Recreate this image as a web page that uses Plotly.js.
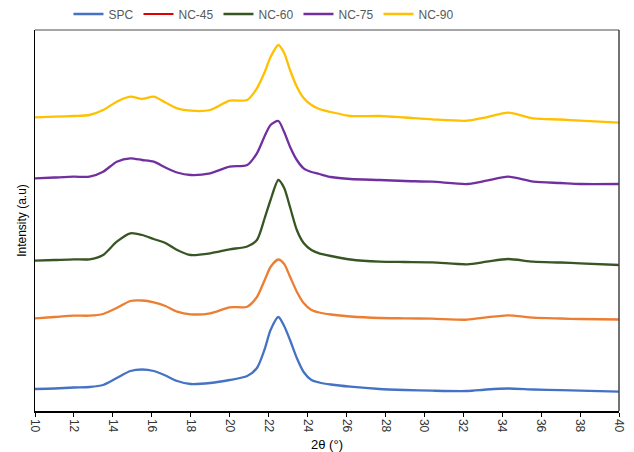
<!DOCTYPE html>
<html>
<head>
<meta charset="utf-8">
<script src="https://cdn.plot.ly/plotly-3.0.1.min.js"></script>
<style>html,body{margin:0;padding:0;background:#fff;}#chart{width:634px;height:452px;}</style>
</head>
<body>
<div id="chart"></div>
<script>
// 2θ angles (degrees)
const twoTheta = [10, 11, 12, 12.8, 13.5, 14.2, 14.9, 15.5, 16.1, 16.7, 17.3, 18, 19, 20, 20.9, 21.4, 21.8, 22.1, 22.5, 22.8, 23.1, 23.45, 23.8, 24.2, 24.6, 25.2, 26.2, 27.7, 29, 30.4, 32.2, 33.2, 34.3, 35.6, 37, 38, 40];

// Intensities (a.u., stacked as in the figure)
const spc  = [22, 22.5, 23.5, 24, 26, 33, 40, 41.5, 40, 35.5, 30, 27, 28, 31, 35, 43, 62, 81, 94, 85, 71, 53, 39, 31, 28.5, 26.5, 24.3, 22, 21, 20.3, 20, 21.5, 22.5, 21.5, 20.8, 20.3, 19.3];
const nc45 = [92.7, 94, 95.3, 95.3, 97, 103, 110, 110.5, 108.7, 105, 99.3, 96.7, 97.7, 103.7, 104.3, 114, 131, 144, 151.5, 147, 134.3, 119.3, 108, 101, 98.5, 96.5, 94.5, 93, 92.7, 92.3, 91.3, 93.7, 95.7, 93.3, 92.5, 92, 91.5];
const nc60 = [150.3, 151, 151.7, 151.7, 156, 169.3, 177.7, 176, 172, 168, 161, 156, 157.7, 161.7, 164.5, 171, 193, 211, 231, 223, 204, 181, 168, 161, 157.7, 155, 151.5, 149.3, 149, 148.7, 146.7, 149.3, 152, 149.3, 148.5, 147.7, 146];
const nc75 = [232.7, 233.5, 234.3, 234.3, 239.3, 249.3, 252.7, 251, 249.3, 243.5, 238.5, 236, 237.7, 244.3, 246, 257.7, 275, 286, 290, 279, 264.3, 251, 242.7, 239, 237, 234, 232, 231, 230, 229.3, 227, 230.3, 234.3, 229.3, 228, 227, 227];
const nc90 = [293.7, 294.3, 295, 296, 301, 309.3, 314.3, 312, 314.3, 308.5, 302.7, 300.3, 301, 310.3, 311, 322.7, 339, 354, 366, 358, 341, 324.3, 313, 306, 302, 299, 295, 295, 293.5, 291.7, 290.3, 293.7, 298.3, 292.7, 291.5, 290.3, 288.3];

const xTicks = [10, 12, 14, 16, 18, 20, 22, 24, 26, 28, 30, 32, 34, 36, 38, 40];
const seriesNames = ['SPC', 'NC-45', 'NC-60', 'NC-75', 'NC-90'];

const lineStyle = (c) => ({color: c, width: 2.3, shape: 'spline', smoothing: 0.7});

const traces = [
  {x: twoTheta, y: spc, name: seriesNames[0], mode: 'lines', line: lineStyle('#4472C4')},
  {x: [null], y: [null], name: seriesNames[1], mode: 'lines', line: {color: '#E00000', width: 2}},
  {x: twoTheta, y: nc45, name: seriesNames[1], mode: 'lines', line: lineStyle('#ED7D31'), showlegend: false},
  {x: twoTheta, y: nc60, name: seriesNames[2], mode: 'lines', line: lineStyle('#375623')},
  {x: twoTheta, y: nc75, name: seriesNames[3], mode: 'lines', line: lineStyle('#7030A0')},
  {x: twoTheta, y: nc90, name: seriesNames[4], mode: 'lines', line: lineStyle('#FFC000')}
];

const layout = {
  width: 634, height: 452,
  margin: {l: 35, r: 15, t: 30, b: 41, pad: 0},
  paper_bgcolor: '#fff', plot_bgcolor: '#fff',
  font: {family: 'Liberation Sans, Arial, sans-serif', size: 12, color: '#333'},
  showlegend: true,
  legend: {orientation: 'h', xref: 'container', yref: 'container', x: 0.108, xanchor: 'left', y: 0.969, yanchor: 'middle',
           bgcolor: 'rgba(0,0,0,0)', font: {size: 12, color: '#595959'}, itemwidth: 30, tracegroupgap: 0},
  xaxis: {
    range: [10, 40], tickvals: xTicks, ticktext: xTicks.map(String),
    tickangle: 90, ticks: 'outside', ticklen: 4, tickcolor: '#000', tickwidth: 1,
    showline: true, linecolor: '#000', linewidth: 1.5, showgrid: false, zeroline: false,
    tickfont: {size: 12, color: '#333'}, automargin: false,
    title: {text: '2θ (°)', font: {size: 13, color: '#000'}, standoff: 12}
  },
  yaxis: {
    range: [0, 381], showticklabels: false, ticks: '', showgrid: false, zeroline: false,
    showline: true, linecolor: '#000', linewidth: 1.5, automargin: false,
    title: {text: 'Intensity (a.u)', font: {size: 12, color: '#000'}, standoff: 4}
  },
  shapes: [
    {type: 'line', xref: 'paper', yref: 'paper', x0: 0, x1: 1, y0: 1, y1: 1, line: {color: '#888', width: 1.5}},
    {type: 'line', xref: 'paper', yref: 'paper', x0: 1, x1: 1, y0: 0, y1: 1, line: {color: '#444', width: 1.5}}
  ]
};

Plotly.newPlot('chart', traces, layout, {displayModeBar: false, staticPlot: true});
</script>
</body>
</html>
